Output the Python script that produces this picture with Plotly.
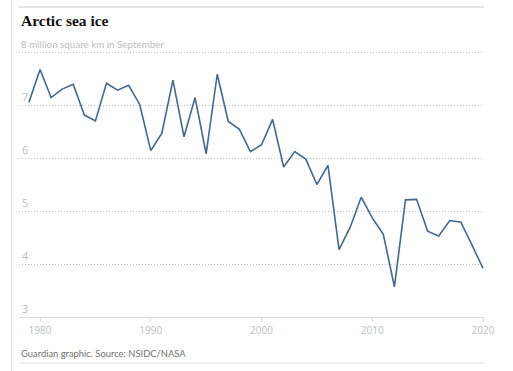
import plotly.graph_objects as go

years = list(range(1979, 2021))
extent = [7.05, 7.67, 7.14, 7.30, 7.39, 6.81, 6.70, 7.41, 7.28, 7.37,
          7.01, 6.14, 6.47, 7.47, 6.40, 7.14, 6.08, 7.58, 6.69, 6.54,
          6.12, 6.25, 6.73, 5.83, 6.12, 5.98, 5.50, 5.86, 4.27, 4.69,
          5.26, 4.87, 4.56, 3.57, 5.21, 5.22, 4.62, 4.53, 4.82, 4.79,
          4.36, 3.92]
y_ticks = [3, 4, 5, 6, 7, 8]
y_ticktext = ["3", "4", "5", "6", "7", ""]
y_top_label = "8 million square km in September"
x_ticks = [1980, 1990, 2000, 2010, 2020]

W, H = 513, 371
L, R, T, B = 19, 29, 41, 54
pw, ph = W - L - R, H - T - B

fig = go.Figure()
fig.add_trace(go.Scatter(x=years, y=extent, mode="lines",
                         line=dict(color="#41698f", width=1.6),
                         hoverinfo="skip", showlegend=False))

def px_x(p):
    return (p - L) / pw

def px_y(p):
    return (H - B - p) / ph

fig.update_layout(
    width=W, height=H,
    margin=dict(l=L, r=R, t=T, b=B, pad=0),
    paper_bgcolor="white", plot_bgcolor="white",
    font=dict(family="Open Sans", size=10, color="#bdbdbd"),
    xaxis=dict(range=[1978.10, 2020.09], tickvals=x_ticks,
               ticks="outside", ticklen=4, tickcolor="#dcdcdc", tickwidth=1,
               showgrid=False, zeroline=False,
               showline=True, linecolor="#dcdcdc", linewidth=1,
               tickfont=dict(family="Open Sans", size=10, color="#bdbdbd")),
    yaxis=dict(range=[3, 3 + ph / 53.0], tickvals=y_ticks, ticktext=y_ticktext,
               ticklabelposition="inside top", showgrid=True,
               gridcolor="#c4c4c4", griddash="1px,2px", gridwidth=1,
               zeroline=False, showline=False, ticks="",
               tickfont=dict(family="Open Sans", size=11, color="#bdbdbd")),
    shapes=[
        dict(type="line", xref="paper", yref="paper",
             x0=px_x(11.5), x1=px_x(11.5), y0=px_y(0), y1=px_y(371),
             line=dict(color="#dcdcdc", width=1)),
        dict(type="line", xref="paper", yref="paper",
             x0=0, x1=1, y0=px_y(7), y1=px_y(7),
             line=dict(color="#dcdcdc", width=1.5)),
        dict(type="line", xref="paper", yref="paper",
             x0=0, x1=1, y0=px_y(363), y1=px_y(363),
             line=dict(color="#dcdcdc", width=1)),
    ],
    annotations=[
        dict(text="<b>Arctic sea ice</b>", xref="paper", yref="paper",
             x=0, y=px_y(20), xanchor="left", yanchor="middle",
             showarrow=False,
             font=dict(family="Liberation Serif", size=15.5, color="#121212")),
        dict(text=y_top_label, xref="paper", yref="y",
             x=0, y=8, xanchor="left", yanchor="bottom", yshift=0,
             showarrow=False,
             font=dict(family="Lato", size=9.8, color="#bdbdbd")),
        dict(text="Guardian graphic. Source: NSIDC/NASA", xref="paper", yref="paper",
             x=0, y=px_y(353), xanchor="left", yanchor="middle",
             showarrow=False,
             font=dict(family="Lato", size=9.4, color="#707070")),
    ],
)

fig.write_html("out.html", config={"displayModeBar": False},
               post_script="document.body.style.margin='0';")
